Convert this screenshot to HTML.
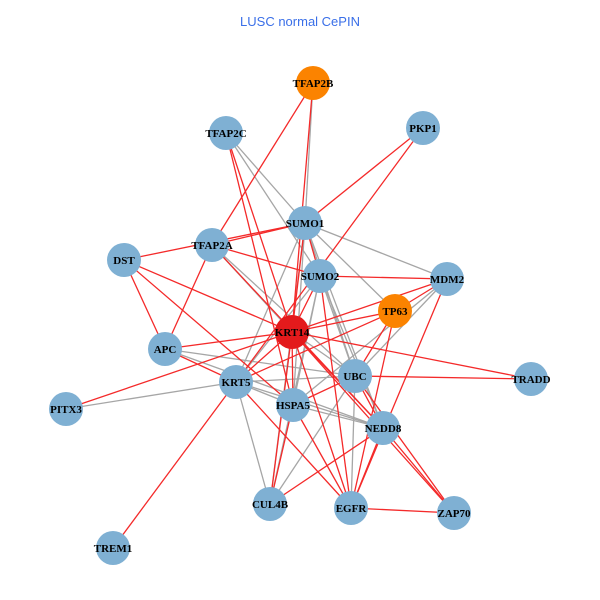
<!DOCTYPE html>
<html><head><meta charset="utf-8"><style>
html,body{margin:0;padding:0;background:#fff;}
svg{display:block}
text.l{font-family:"Liberation Serif",serif;font-weight:bold;font-size:11px;text-anchor:middle;fill:#000}
.g line{stroke:#a6a6a6;stroke-width:1.3}
.r line{stroke:#f42a2a;stroke-width:1.3}
</style></head><body>
<svg width="600" height="600" viewBox="0 0 600 600">
<text x="300" y="26" font-family="Liberation Sans,sans-serif" font-size="13" fill="#3a6fe8" text-anchor="middle">LUSC normal CePIN</text>
<g class="g">
<line x1="313" y1="83" x2="305" y2="223"/>
<line x1="226" y1="133" x2="305" y2="223"/>
<line x1="226" y1="133" x2="320" y2="276"/>
<line x1="305" y1="223" x2="447" y2="279"/>
<line x1="305" y1="223" x2="395" y2="311"/>
<line x1="305" y1="223" x2="236" y2="382"/>
<line x1="305" y1="223" x2="293" y2="405"/>
<line x1="305" y1="223" x2="355" y2="376"/>
<line x1="305" y1="223" x2="383" y2="428"/>
<line x1="305" y1="223" x2="270" y2="504"/>
<line x1="320" y1="276" x2="236" y2="382"/>
<line x1="320" y1="276" x2="293" y2="405"/>
<line x1="320" y1="276" x2="383" y2="428"/>
<line x1="320" y1="276" x2="355" y2="376"/>
<line x1="320" y1="276" x2="270" y2="504"/>
<line x1="212" y1="245" x2="292" y2="332"/>
<line x1="212" y1="245" x2="355" y2="376"/>
<line x1="447" y1="279" x2="355" y2="376"/>
<line x1="447" y1="279" x2="293" y2="405"/>
<line x1="292" y1="332" x2="355" y2="376"/>
<line x1="165" y1="349" x2="355" y2="376"/>
<line x1="165" y1="349" x2="383" y2="428"/>
<line x1="355" y1="376" x2="236" y2="382"/>
<line x1="355" y1="376" x2="351" y2="508"/>
<line x1="355" y1="376" x2="270" y2="504"/>
<line x1="236" y1="382" x2="66" y2="409"/>
<line x1="236" y1="382" x2="293" y2="405"/>
<line x1="236" y1="382" x2="383" y2="428"/>
<line x1="236" y1="382" x2="270" y2="504"/>
<line x1="293" y1="405" x2="383" y2="428"/>
</g>
<g class="r">
<line x1="313" y1="83" x2="292" y2="332"/>
<line x1="313" y1="83" x2="212" y2="245"/>
<line x1="226" y1="133" x2="292" y2="332"/>
<line x1="226" y1="133" x2="293" y2="405"/>
<line x1="423" y1="128" x2="305" y2="223"/>
<line x1="423" y1="128" x2="236" y2="382"/>
<line x1="305" y1="223" x2="212" y2="245"/>
<line x1="305" y1="223" x2="124" y2="260"/>
<line x1="305" y1="223" x2="292" y2="332"/>
<line x1="305" y1="223" x2="320" y2="276"/>
<line x1="320" y1="276" x2="447" y2="279"/>
<line x1="320" y1="276" x2="212" y2="245"/>
<line x1="320" y1="276" x2="292" y2="332"/>
<line x1="320" y1="276" x2="351" y2="508"/>
<line x1="124" y1="260" x2="292" y2="332"/>
<line x1="124" y1="260" x2="165" y2="349"/>
<line x1="124" y1="260" x2="293" y2="405"/>
<line x1="212" y1="245" x2="165" y2="349"/>
<line x1="212" y1="245" x2="383" y2="428"/>
<line x1="447" y1="279" x2="395" y2="311"/>
<line x1="447" y1="279" x2="292" y2="332"/>
<line x1="447" y1="279" x2="351" y2="508"/>
<line x1="395" y1="311" x2="292" y2="332"/>
<line x1="395" y1="311" x2="236" y2="382"/>
<line x1="395" y1="311" x2="355" y2="376"/>
<line x1="395" y1="311" x2="351" y2="508"/>
<line x1="292" y1="332" x2="165" y2="349"/>
<line x1="292" y1="332" x2="236" y2="382"/>
<line x1="292" y1="332" x2="293" y2="405"/>
<line x1="292" y1="332" x2="383" y2="428"/>
<line x1="292" y1="332" x2="270" y2="504"/>
<line x1="292" y1="332" x2="351" y2="508"/>
<line x1="292" y1="332" x2="454" y2="513"/>
<line x1="292" y1="332" x2="531" y2="379"/>
<line x1="292" y1="332" x2="66" y2="409"/>
<line x1="165" y1="349" x2="236" y2="382"/>
<line x1="355" y1="376" x2="531" y2="379"/>
<line x1="355" y1="376" x2="293" y2="405"/>
<line x1="355" y1="376" x2="383" y2="428"/>
<line x1="355" y1="376" x2="454" y2="513"/>
<line x1="236" y1="382" x2="351" y2="508"/>
<line x1="236" y1="382" x2="113" y2="548"/>
<line x1="293" y1="405" x2="270" y2="504"/>
<line x1="293" y1="405" x2="351" y2="508"/>
<line x1="383" y1="428" x2="270" y2="504"/>
<line x1="383" y1="428" x2="351" y2="508"/>
<line x1="383" y1="428" x2="454" y2="513"/>
<line x1="351" y1="508" x2="454" y2="513"/>
</g>
<g fill="#7fb0d3">
<circle cx="423" cy="128" r="17"/><circle cx="226" cy="133" r="17"/>
<circle cx="305" cy="223" r="17"/><circle cx="212" cy="245" r="17"/>
<circle cx="124" cy="260" r="17"/><circle cx="320" cy="276" r="17"/>
<circle cx="447" cy="279" r="17"/><circle cx="165" cy="349" r="17"/>
<circle cx="355" cy="376" r="17"/><circle cx="531" cy="379" r="17"/>
<circle cx="236" cy="382" r="17"/><circle cx="293" cy="405" r="17"/>
<circle cx="66" cy="409" r="17"/><circle cx="383" cy="428" r="17"/>
<circle cx="270" cy="504" r="17"/><circle cx="351" cy="508" r="17"/>
<circle cx="454" cy="513" r="17"/><circle cx="113" cy="548" r="17"/>
</g>
<circle cx="313" cy="83" r="17" fill="#fb8300"/>
<circle cx="395" cy="311" r="17" fill="#fb8300"/>
<circle cx="292" cy="332" r="17" fill="#e31a1c"/>
<g>
<text class="l" x="313" y="87">TFAP2B</text>
<text class="l" x="423" y="132">PKP1</text>
<text class="l" x="226" y="137">TFAP2C</text>
<text class="l" x="305" y="227">SUMO1</text>
<text class="l" x="212" y="249">TFAP2A</text>
<text class="l" x="124" y="264">DST</text>
<text class="l" x="320" y="280">SUMO2</text>
<text class="l" x="447" y="283">MDM2</text>
<text class="l" x="395" y="315">TP63</text>
<text class="l" x="292" y="336">KRT14</text>
<text class="l" x="165" y="353">APC</text>
<text class="l" x="355" y="380">UBC</text>
<text class="l" x="531" y="383">TRADD</text>
<text class="l" x="236" y="386">KRT5</text>
<text class="l" x="293" y="409">HSPA5</text>
<text class="l" x="66" y="413">PITX3</text>
<text class="l" x="383" y="432">NEDD8</text>
<text class="l" x="270" y="508">CUL4B</text>
<text class="l" x="351" y="512">EGFR</text>
<text class="l" x="454" y="517">ZAP70</text>
<text class="l" x="113" y="552">TREM1</text>
</g>
</svg>
</body></html>
